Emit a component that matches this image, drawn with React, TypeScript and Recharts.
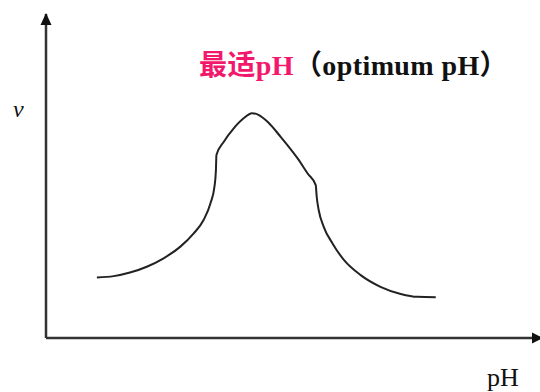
import { LineChart, Line, XAxis, YAxis, ReferenceLine, ReferenceDot } from "recharts";

// curve, arbitrary units (x: pH, y: reaction rate v)
const phValues = [
  10.3, 13.7, 17.0, 20.4, 23.8, 27.2, 29.9, 31.9, 33.3, 34.1, 34.4, 34.5, 36.0, 38.0, 40.0, 41.7,
  43.1, 44.8, 47.5, 50.9, 53.0, 54.6, 54.8, 55.2, 56.2, 58.0, 60.3, 63.7, 67.7, 71.8, 75.2, 78.9,
];
const rateValues = [
  18.7, 19.1, 20.2, 22.0, 24.6, 28.2, 32.3, 36.4, 41.6, 46.7, 51.9, 56.5, 60.6, 64.7, 67.8, 69.4,
  68.8, 66.8, 62.1, 55.5, 50.7, 47.2, 43.6, 39.5, 34.4, 29.2, 24.1, 19.4, 15.8, 13.6, 12.7, 12.6,
];
const titleMain = "最适pH";
const titleRest = "（optimum pH）";
const xLabel = "pH";
const yLabel = "v";

const data = phValues.map((x, i) => ({ x, y: rateValues[i] }));

const AXIS = "#333";

const UpArrow = (p: any) => (
  <path d={`M${p.cx},${p.cy - 1} L${p.cx - 5.5},${p.cy + 11} L${p.cx + 5.5},${p.cy + 11} Z`} fill="#111" />
);
const RightArrow = (p: any) => (
  <path d={`M${p.cx + 3},${p.cy} L${p.cx - 8},${p.cy - 5.5} L${p.cx - 8},${p.cy + 5.5} Z`} fill="#111" />
);

export default function App() {
  return (
    <div style={{ position: "absolute", left: 0, top: 0, width: 540, height: 392, background: "#fff" }}>
      <LineChart width={540} height={392} data={data} margin={{ top: 14, right: 0, bottom: 54, left: 46 }}>
        <XAxis type="number" dataKey="x" domain={[0, 100]} hide />
        <YAxis type="number" domain={[0, 100]} hide />
        <ReferenceLine y={0} stroke={AXIS} strokeWidth={2.5} />
        <ReferenceLine x={0} stroke={AXIS} strokeWidth={2.5} />
        <ReferenceDot x={0} y={100} r={0} shape={UpArrow} ifOverflow="visible" />
        <ReferenceDot x={100} y={0} r={0} shape={RightArrow} ifOverflow="visible" />
        <Line
          type="monotone"
          dataKey="y"
          stroke="#222"
          strokeWidth={2}
          dot={false}
          isAnimationActive={false}
        />
      </LineChart>
      <div
        style={{
          position: "absolute",
          left: 199,
          top: 52,
          fontSize: 28,
          fontWeight: "bold",
          lineHeight: 1,
          whiteSpace: "nowrap",
          letterSpacing: 0.4,
          fontFamily: "'Liberation Serif', 'Noto Sans CJK SC', serif",
        }}
      >
        <span style={{ color: "#f2186b" }}>{titleMain}</span>
        <span style={{ color: "#111" }}>{titleRest}</span>
      </div>
      <div
        style={{
          position: "absolute",
          left: 13,
          top: 97,
          fontSize: 24,
          fontStyle: "italic",
          lineHeight: 1,
          fontFamily: "'Liberation Serif', serif",
          color: "#111",
        }}
      >
        {yLabel}
      </div>
      <div
        style={{
          position: "absolute",
          left: 487,
          top: 365,
          fontSize: 26,
          lineHeight: 1,
          fontFamily: "'Liberation Serif', serif",
          color: "#111",
        }}
      >
        {xLabel}
      </div>
    </div>
  );
}
